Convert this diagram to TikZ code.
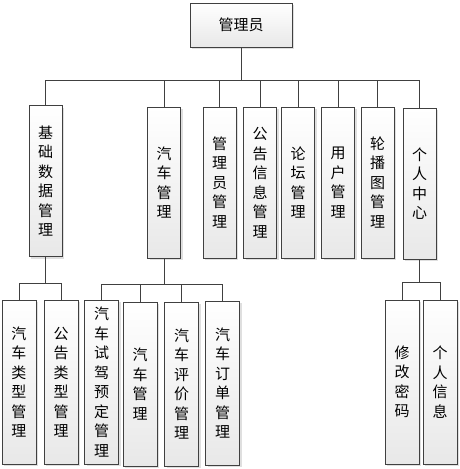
\documentclass[tikz,border=0pt]{standalone}
\usepackage{fontspec}
\newfontfamily\cjk{Noto Sans CJK SC}
\usetikzlibrary{shadows}

\begin{document}
\begin{tikzpicture}[x=1pt, y=-1pt,
  modbox/.style={draw=black!75, line width=0.8pt, top color=white, bottom color=black!9,
    drop shadow={shadow xshift=2pt, shadow yshift=-2pt, fill=black!25},
    inner sep=0pt, align=center, font=\cjk\fontsize{15}{19.5}\selectfont},
  midbox/.style={modbox, minimum width=33pt, minimum height=151pt},
  leafbox/.style={modbox, minimum width=34pt, minimum height=164pt},
  link/.style={draw=black!75, line width=0.8pt}]
  \useasboundingbox (0,0) rectangle (459,469);

  % top
  \node[modbox, minimum width=102pt, minimum height=44pt] (admin) at (241,25) {管理员};

  % second level
  \node[midbox] (base)   at (45.5,181)  {基\\础\\数\\据\\管\\理};
  \node[midbox] (car)    at (164,182.5) {汽\\车\\管\\理};
  \node[midbox] (staff)  at (219.5,182.5) {管\\理\\员\\管\\理};
  \node[midbox] (notice) at (260,182.5) {公\\告\\信\\息\\管\\理};
  \node[midbox] (forum)  at (298,182.5) {论\\坛\\管\\理};
  \node[midbox] (user)   at (338,182.5) {用\\户\\管\\理};
  \node[midbox] (banner) at (377.5,182.5) {轮\\播\\图\\管\\理};
  \node[midbox] (center) at (419.5,183.5) {个\\人\\中\\心};

  % third level
  \node[leafbox] (cartype)    at (19,382)    {汽\\车\\类\\型\\管\\理};
  \node[leafbox] (noticetype) at (61,382)    {公\\告\\类\\型\\管\\理};
  \node[leafbox] (testdrive)  at (101.5,382) {汽\\车\\试\\驾\\预\\定\\管\\理};
  \node[leafbox] (carinfo)    at (140,384)   {汽\\车\\管\\理};
  \node[leafbox] (review)     at (181.5,384) {汽\\车\\评\\价\\管\\理};
  \node[leafbox] (order)      at (222.5,383) {汽\\车\\订\\单\\管\\理};
  \node[leafbox] (passwd)     at (402,382)   {修\\改\\密\\码};
  \node[leafbox] (profile)    at (440,382)   {个\\人\\信\\息};

  \foreach \m in {base,car,staff,notice,forum,user,banner,center}
    \draw[link] (admin.south) -- ++(0,33) -| (\m.north);
  \foreach \m in {cartype,noticetype}
    \draw[link] (base.south) -- ++(0,26) -| (\m.north);
  \foreach \m in {testdrive,carinfo,review,order}
    \draw[link] (car.south) -- ++(0,26) -| (\m.north);
  \foreach \m in {passwd,profile}
    \draw[link] (center.south) -- ++(0,23) -| (\m.north);
\end{tikzpicture}
\end{document}
